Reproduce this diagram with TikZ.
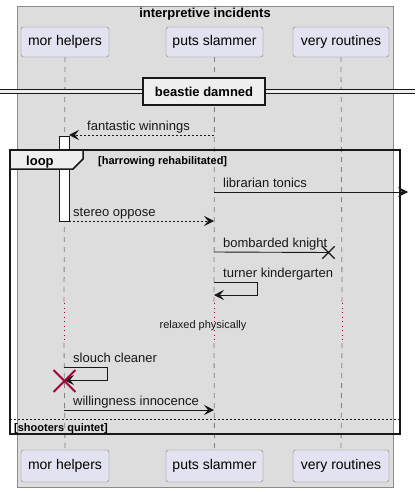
\documentclass[tikz,border=0pt]{standalone}
\usepackage{fontspec}
\setmainfont{Liberation Sans}
\usetikzlibrary{arrows.meta,shapes.misc}

\definecolor{boxbg}{HTML}{DDDDDD}
\definecolor{boxline}{HTML}{8A8A8A}
\definecolor{partfill}{HTML}{E2E2F0}
\definecolor{partline}{HTML}{7F7F7F}
\definecolor{lifegray}{HTML}{808080}
\definecolor{delayred}{HTML}{A80036}
\definecolor{tabfill}{HTML}{EEEEEE}
\definecolor{ink}{HTML}{181818}

\begin{document}
\begin{tikzpicture}[x=1pt,y=-1pt,
	part/.style={draw=partline,fill=partfill,rounded corners=2.5pt,minimum height=30pt,inner sep=0pt,font=\fontsize{14}{16}\selectfont},
	life/.style={draw=lifegray,dash pattern=on 5pt off 5pt,line width=0.8pt},
	delay/.style={draw=delayred,dash pattern=on 1pt off 3.5pt,line width=0.9pt},
	msg/.style={draw=ink,line width=0.9pt,-{Stealth[length=10pt,width=10pt,inset=4pt]}},
	reply/.style={msg,dash pattern=on 2pt off 2pt},
	lbl/.style={anchor=base west,inner sep=0pt,text=ink,font=\fontsize{13}{15}\selectfont},
	small/.style={anchor=base west,inner sep=0pt,text=ink,font=\fontsize{11}{13}\selectfont},
	frame/.style={draw=ink,line width=1.5pt}]
	\useasboundingbox (0,0) rectangle (415,492);
	\draw[draw=boxline,fill=boxbg,line width=0.8pt] (17,6) rectangle (393,487);
	\node[anchor=base,inner sep=0pt,font=\bfseries\fontsize{13}{15}\selectfont] (title) at (205,18) {interpretive incidents};
	\draw
		node[part,minimum width=88pt] (mh_top) at (65,42) {mor helpers}
		node[part,minimum width=97pt] (ps_top) at (214.5,42) {puts slammer}
		node[part,minimum width=96pt] (vr_top) at (341,42) {very routines}
		node[part,minimum width=88pt,minimum height=32pt] (mh_bot) at (65,466) {mor helpers}
		node[part,minimum width=97pt,minimum height=32pt] (ps_bot) at (214.5,466) {puts slammer}
		node[part,minimum width=96pt,minimum height=32pt] (vr_bot) at (341,466) {very routines};
	\coordinate (mh_d1) at (64,303);
	\coordinate (mh_d2) at (64,343);
	\coordinate (ps_d1) at (214,303);
	\coordinate (ps_d2) at (214,343);
	\coordinate (vr_d1) at (342,303);
	\coordinate (vr_d2) at (342,343);
	\foreach \p in {mh,ps,vr} {
		\draw[life] (\p_top.south) -- (\p_d1);
		\draw[delay] (\p_d1) -- (\p_d2);
		\draw[life] (\p_d2) -- (\p_bot.north);
	}
	% divider
	\fill[tabfill] (0,89) rectangle (415,93);
	\draw[ink,line width=0.9pt] (0,89) -- (415,89) (0,93) -- (415,93);
	\node[draw=ink,line width=1.5pt,fill=tabfill,minimum width=122pt,minimum height=27pt,inner sep=0pt,font=\bfseries\fontsize{13}{15}\selectfont] (div) at (204,91.5) {beastie damned};
	% activation
	\node[draw=ink,fill=white,line width=0.8pt,minimum width=10pt,minimum height=85pt,inner sep=0pt] (act) at (64,178.5) {};
	% loop frame
	\draw[frame] (10,150) rectangle (400,434);
	\draw[frame,fill=tabfill] (10,150) -- (83,150) -- (83,159) -- (73,169) -- (10,169) -- cycle;
	\node[anchor=base west,inner sep=0pt,font=\bfseries\fontsize{13}{15}\selectfont] (looplbl) at (26,165) {loop};
	\node[anchor=base west,inner sep=0pt,font=\bfseries\fontsize{11}{13}\selectfont] (guard) at (98,164) {[harrowing rehabilitated]};
	\draw[ink,line width=0.9pt,dash pattern=on 2pt off 2pt] (10,419) -- (400,419);
	\node[anchor=base west,inner sep=0pt,font=\bfseries\fontsize{11}{13}\selectfont] (guard2) at (14,431) {[shooters quintet]};
	% messages
	\coordinate (ps_m1) at (214,135);
	\coordinate (mh_m1) at (69,135);
	\draw[reply] (ps_m1) -- (mh_m1);
	\node[lbl] (fw) at (87,130) {fantastic winnings};
	\coordinate (ps_m2) at (214,192);
	\coordinate (out_m2) at (408,192);
	\draw[msg] (ps_m2) -- (out_m2);
	\node[lbl] (lt) at (223,187) {librarian tonics};
	\coordinate (mh_m3) at (69,221);
	\coordinate (ps_m3) at (214,221);
	\draw[reply] (mh_m3) -- (ps_m3);
	\node[lbl] (so) at (73,216) {stereo oppose};
	\node[draw=ink,cross out,line width=1.4pt,minimum size=11pt,inner sep=0pt] (kx) at (328.5,252.5) {};
	\coordinate (ps_m4) at (214,252);
	\draw[ink,line width=0.9pt] (ps_m4) -- (kx.center);
	\node[lbl] (bk) at (223,247) {bombarded knight};
	\coordinate (ps_m5) at (214,282);
	\coordinate (ps_m5b) at (214,295);
	\draw[msg] (ps_m5) -- ++(43,0) |- (ps_m5b);
	\node[lbl] (tk) at (223,277) {turner kindergarten};
	\node[anchor=base,inner sep=0pt,text=ink,font=\fontsize{11}{13}\selectfont] (rp) at (203,328) {relaxed physically};
	\coordinate (mh_m6) at (64,367);
	\coordinate (mh_m6b) at (64,380);
	\draw[msg] (mh_m6) -- ++(43,0) |- (mh_m6b);
	\node[lbl] (sc) at (73,362) {slouch cleaner};
	\node[draw=delayred,cross out,line width=1.8pt,minimum size=20pt,inner sep=0pt] (mx) at (64.5,381) {};
	\coordinate (mh_m7) at (64,410);
	\coordinate (ps_m7) at (214,410);
	\draw[msg] (mh_m7) -- (ps_m7);
	\node[lbl] (wi) at (73,405) {willingness innocence};
\end{tikzpicture}
\end{document}
